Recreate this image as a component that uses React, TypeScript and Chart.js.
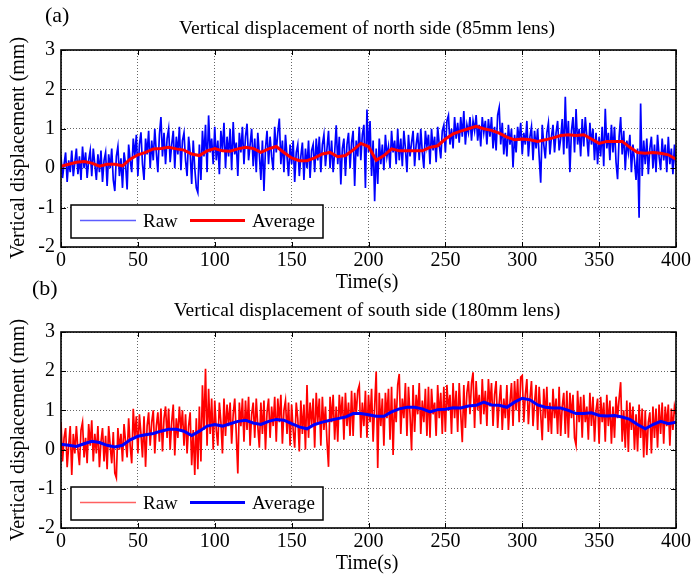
import React, { useEffect, useRef } from 'react';
import { Chart, registerables } from 'chart.js';
Chart.register(...registerables);

// ---------- data ----------
const RAW_STEP = 1; // seconds between raw samples
const AVG_STEP = 5; // seconds between average samples

const northRaw = [
  0.3, -0.25, 0.1, 0.4, -0.35, 0.2, -0.1, 0.45, -0.2, 0.15,
  0.5, -0.15, 0.3, -0.3, 0.55, 0.0, 0.4, -0.25, 0.2, 0.45,
  -0.2, 0.5, 0.1, -0.3, 0.35, -0.1, 0.45, -0.35, 0.2, 0.4,
  -0.45, 0.35, 0.0, 0.5, -0.3, -0.58, 0.3, 0.55, -0.2, 0.25,
  -0.5, 0.4, 0.1, -0.54, 0.6, 0.2, -0.1, 0.75, 0.3, 0.85,
  -0.2, 0.6, 0.91, 0.1, -0.3, 0.75, 0.35, 0.95, 0.0, 0.7,
  0.2, 1.0, 0.4, -0.1, 0.85, 1.3, 0.3, 0.9, 0.1, 0.75,
  1.0, 0.15, 0.6, 0.95, 0.0, 0.8, 0.35, 1.05, -0.05, 0.7,
  0.9, 0.2, -0.2, 0.8, 0.4, -0.4, 0.7, 0.0, -0.5, -0.62,
  0.6, -0.3, 0.95, 0.3, 1.1, -0.1, 1.34, 0.4, 0.75, 0.1,
  1.05, 0.2, 0.7, -0.15, 0.95, 0.45, 1.15, 0.0, 0.8, 0.3,
  1.0, -0.05, 1.17, 0.35, 0.65, -0.2, 0.9, 0.4, 1.05, 0.1,
  0.8, 1.13, 0.2, 0.6, 1.0, 0.05, 0.75, -0.1, 0.9, 0.35,
  -0.3, 0.7, -0.58, 0.5, 0.95, 0.1, 0.8, 0.3, -0.05, 1.05,
  0.4, 0.9, 1.26, 0.1, 0.7, -0.1, 0.85, 0.3, -0.2, 0.6,
  0.1, 0.7, -0.35, 0.4, 0.6, -0.2, 0.3, 0.65, -0.3, 0.5,
  0.0, 0.7, -0.25, 0.45, 0.6, -0.1, 0.75, 0.2, 0.8, -0.1,
  0.6, 0.85, 0.05, 0.5, 0.95, 0.0, 0.7, -0.1, 0.4, 1.09,
  0.1, 0.8, -0.41, 0.5, 0.75, -0.2, 0.6, 0.9, 0.0, 0.65,
  0.95, -0.45, 0.7, 0.3, 1.05, 0.2, 0.85, 1.1, -0.5, 1.49,
  0.4, 1.2, -0.2, 0.7, -0.84, 0.5, -0.4, 0.75, 0.1, 0.6,
  -0.05, 0.85, 0.3, 0.55, 0.0, 0.95, 0.4, 0.7, 0.1, 1.0,
  0.2, 0.75, 0.05, 0.95, 0.5, -0.1, 0.85, 0.3, 0.65, 0.95,
  0.05, 0.6, 0.9, 0.2, 1.0, 0.4, 0.0, 0.95, 0.55, 0.85,
  0.1, 1.0, 0.45, 0.8, 0.15, 1.05, 0.6, 0.25, 0.95, 1.1,
  0.4, 1.2, 1.34, 0.6, 1.0, 0.5, 1.3, 0.75, 1.15, 0.65,
  1.3, 0.8, 1.45, 0.6, 1.1, 0.9, 1.3, 0.7, 1.2, 0.95,
  1.35, 0.7, 1.1, 0.55, 1.3, 0.9, 1.2, 0.6, 1.25, 0.8,
  1.3, 0.5, 1.05, 0.45, 1.35, 1.54, 0.6, 1.15, 0.35, 0.9,
  0.3, 1.1, 0.6, 1.0, 0.02, 0.85, 0.4, 1.05, 0.7, 1.15,
  0.35, 0.9, 0.6, 1.2, 0.3, 0.8, 1.05, 0.2, 0.95, 0.5,
  1.0, 0.3, -0.37, 1.1, 0.6, 0.25, 0.9, 1.15, 0.35, 0.8,
  1.1, 0.4, 0.9, 1.2, 0.45, 0.75, 1.25, 0.35, 1.81, 0.5,
  1.2, -0.1, 0.95, 1.3, 0.4, 1.5, 0.6, 1.0, 0.3, 1.25,
  0.55, 1.3, 0.8, 0.3, 1.15, 0.6, 1.0, 0.2, 0.9, 0.1,
  0.8, 0.3, 1.05, 0.05, 1.51, 0.5, 0.9, 0.2, 1.1, 0.4,
  1.05, 0.15, -0.28, 0.8, 1.3, 0.35, 0.95, -0.05, 0.7, 0.4,
  0.85, -0.1, 0.6, 0.2, -0.3, 0.5, -1.26, 1.64, -0.2, 0.7,
  0.1, 0.75, -0.15, 0.5, 0.8, 0.0, 0.6, -0.1, 0.85, 0.3,
  -0.05, 0.75, 0.2, 0.6, -0.1, 0.8, 0.1, 0.5, -0.15, 0.6,
  0.0,
];

const northAvg = [
  0.05, 0.1, 0.15, 0.17, 0.13, 0.05, 0.1, 0.1, 0.06, 0.23,
  0.34, 0.4, 0.49, 0.5, 0.53, 0.49, 0.46, 0.36, 0.32, 0.44,
  0.5, 0.44, 0.43, 0.49, 0.53, 0.5, 0.4, 0.49, 0.55, 0.4,
  0.26, 0.19, 0.19, 0.26, 0.36, 0.4, 0.29, 0.32, 0.46, 0.63,
  0.55, 0.2, 0.32, 0.49, 0.44, 0.44, 0.44, 0.44, 0.53, 0.57,
  0.74, 0.87, 0.94, 1.0, 1.06, 1.0, 0.96, 0.89, 0.79, 0.72,
  0.74, 0.72, 0.68, 0.72, 0.77, 0.83, 0.85, 0.83, 0.85, 0.74,
  0.63, 0.68, 0.68, 0.68, 0.53, 0.4, 0.38, 0.4, 0.38, 0.34,
  0.23,
];

const southRaw = [
  0.7, -0.3, 0.3, 0.55, -0.45, 0.1, 0.6, -0.65, 0.4, -0.1,
  0.6, 0.0, -0.4, 0.5, 0.7, -0.2, 0.3, -0.35, 0.65, 0.1,
  0.75, -0.3, 0.4, -0.1, 0.6, -0.45, 0.2, 0.55, -0.3, 0.35,
  -0.5, 0.6, 0.1, -0.35, 0.45, -0.6, -0.72, 0.55, 0.0, 0.4,
  -0.3, 0.65, 0.2, -0.2, 0.8, 0.1, -0.35, 1.04, 0.3, 0.85,
  -0.1, 0.9, 0.4, -0.2, 0.85, -0.44, 0.6, 0.95, 0.1, 0.7,
  1.0, -0.1, 0.6, 0.95, 0.2, 1.05, -0.05, 0.8, 1.1, 0.3,
  1.05, 0.0, 0.7, 1.15, -0.15, 0.8, 0.3, 1.1, 0.5, 1.0,
  0.1, 0.9, -0.1, 0.6, 0.95, -0.4, 0.5, -0.65, 0.8, -0.5,
  1.1, -0.3, 1.64, 0.5, 2.06, 0.1, 1.55, 0.4, 1.3, 0.0,
  1.25, 0.5, 0.1, 1.2, 0.7, -0.1, 1.3, 0.35, 1.15, 0.6,
  1.2, 0.15, 0.9, 1.3, 0.4, -0.61, 1.2, 0.6, 1.3, 0.2,
  1.25, 0.5, 1.35, 0.1, 0.9, 1.2, 0.3, 1.3, 0.6, 0.05,
  1.2, 0.4, 1.25, 0.0, 0.95, 1.3, 0.3, 1.1, 0.6, 1.35,
  0.2, 1.3, 0.7, 1.4, 0.15, 1.0, 1.25, 0.4, 1.2, 0.1,
  1.15, 0.5, 0.05, 1.2, 0.8, -0.05, 1.25, 0.4, 1.15, 0.0,
  1.65, 0.3, 1.2, 0.6, 1.3, 0.05, 1.45, 0.7, 1.3, 0.1,
  1.35, 0.5, 1.1, 0.2, -0.44, 1.35, 0.7, 1.4, 0.25, 1.1,
  0.2, 1.4, 0.8, 1.35, 0.25, 1.45, 0.6, 1.2, 0.35, 1.5,
  0.35, 1.45, 0.9, 1.5, 1.64, 0.3, 1.2, 0.6, 1.5, 0.3,
  1.4, 0.7, 1.55, 0.2, 1.1, 1.99, -0.47, 1.45, 0.6, 1.3,
  0.1, 1.45, 0.8, 1.55, 0.25, 1.6, -0.14, 1.3, 0.7, 1.65,
  1.93, 0.4, 1.3, 0.8, 1.7, 0.35, 1.6, 0.9, -0.02, 1.65,
  0.45, 1.4, 0.9, 1.7, 0.4, 1.25, 0.7, 1.55, 0.35, 1.6,
  0.3, 1.55, 0.9, 1.2, 0.35, 1.65, 0.8, 1.45, 0.4, 1.6,
  0.45, 1.65, 1.0, 1.4, 0.4, 1.7, 0.8, 1.5, 0.45, 1.7,
  0.9, 0.19, 1.65, 0.55, 1.45, 1.75, 0.9, 1.7, 1.97, 0.55,
  1.75, 1.0, 1.4, 0.65, 1.8, 0.9, 1.5, 0.6, 1.8, 1.1,
  1.7, 0.6, 1.4, 1.75, 0.55, 1.2, 1.65, 0.5, 1.3, 0.8,
  1.65, 0.5, 1.2, 1.7, 0.6, 1.75, 1.0, 1.8, 0.7, 1.85,
  1.89, 0.7, 1.4, 1.8, 0.65, 1.3, 1.75, 0.6, 1.2, 1.65,
  0.5, 1.6, 0.9, 0.24, 1.55, 0.8, 1.6, 0.45, 1.2, 0.4,
  1.55, 0.8, 1.3, 0.4, 1.6, 0.35, 1.1, 1.45, 0.4, 1.5,
  0.3, 1.45, 0.8, 1.4, 0.3, 0.11, 1.5, 0.7, 1.35, 0.3,
  1.4, 0.7, 1.1, 0.25, 1.45, 0.6, 1.35, 0.2, 1.0, 1.3,
  0.15, 1.35, 0.7, 1.2, 0.2, 1.4, 0.6, 1.25, 0.15, 1.1,
  0.3, 1.35, 0.8, 1.3, 1.72, 0.2, 1.0, 0.05, 1.25, -0.06,
  1.2, 0.5, 1.1, 0.0, 0.9, -0.05, 1.15, 0.3, 1.05, -0.2,
  1.0, -0.14, 0.7, 0.95, -0.1, 1.1, 0.3, 1.05, 0.05, 1.15,
  0.4, 1.2, 0.15, 1.1, 0.6, 1.15, 0.1, 1.05, 0.5, 1.1,
  0.9,
];

const southAvg = [
  0.14, 0.11, 0.08, 0.15, 0.21, 0.18, 0.11, 0.07, 0.11, 0.25,
  0.34, 0.38, 0.41, 0.47, 0.52, 0.52, 0.47, 0.36, 0.47, 0.6,
  0.64, 0.6, 0.66, 0.72, 0.75, 0.68, 0.64, 0.72, 0.77, 0.75,
  0.66, 0.58, 0.53, 0.64, 0.7, 0.75, 0.79, 0.83, 0.92, 0.92,
  0.89, 0.85, 0.85, 0.96, 1.04, 1.08, 1.08, 1.04, 0.96, 1.02,
  1.03, 1.07, 1.06, 1.11, 1.13, 1.21, 1.14, 1.13, 1.08, 1.21,
  1.31, 1.27, 1.14, 1.08, 1.06, 1.06, 1.0, 0.92, 0.92, 0.94,
  0.87, 0.86, 0.87, 0.83, 0.77, 0.64, 0.53, 0.64, 0.72, 0.66,
  0.7,
];

const xMin = 0, xMax = 400, xStep = 50;
const yMin = -2, yMax = 3, yStep = 1;
const legendLabels = ['Raw', 'Average'];

const SERIF = '"Liberation Serif", "Times New Roman", serif';

type PanelCfg = {
  letter: string;
  title: string;
  letterPos: [number, number];
  titlePos: [number, number];
  xTitlePos: [number, number];
  yTitlePos: [number, number];
  rawColor: string;
  rawLegendColor: string;
  avgColor: string;
};

function makeDecor(cfg: PanelCfg) {
  return {
    id: 'decor',
    afterDraw(chart: any) {
      const ctx: CanvasRenderingContext2D = chart.ctx;
      const { left, top, right, bottom } = chart.chartArea;
      const xs = chart.scales.x;
      const ys = chart.scales.y;
      ctx.save();
      // ticks inside
      ctx.strokeStyle = '#000';
      ctx.lineWidth = 1;
      ctx.beginPath();
      for (let v = xMin; v <= xMax; v += xStep) {
        const px = Math.round(xs.getPixelForValue(v)) + 0.5;
        ctx.moveTo(px, top); ctx.lineTo(px, top + 5);
        ctx.moveTo(px, bottom); ctx.lineTo(px, bottom - 5);
      }
      for (let v = yMin; v <= yMax; v += yStep) {
        const py = Math.round(ys.getPixelForValue(v)) + 0.5;
        ctx.moveTo(left, py); ctx.lineTo(left + 5, py);
        ctx.moveTo(right, py); ctx.lineTo(right - 5, py);
      }
      ctx.stroke();
      // box
      ctx.lineWidth = 1.6;
      ctx.strokeRect(left, top, right - left, bottom - top);

      // tick labels
      ctx.fillStyle = '#000';
      ctx.font = `20px ${SERIF}`;
      ctx.textAlign = 'center';
      ctx.textBaseline = 'alphabetic';
      for (let v = xMin; v <= xMax; v += xStep) {
        ctx.fillText(String(v), xs.getPixelForValue(v), bottom + 18.5);
      }
      ctx.textAlign = 'right';
      ctx.textBaseline = 'middle';
      for (let v = yMin; v <= yMax; v += yStep) {
        ctx.fillText(String(v), left - 6, ys.getPixelForValue(v));
      }

      // legend
      const lx = left + 10, ly = top + 155, lw = 252, lh = 33;
      ctx.fillStyle = '#fff';
      ctx.fillRect(lx, ly, lw, lh);
      ctx.lineWidth = 1.5;
      ctx.strokeStyle = '#000';
      ctx.strokeRect(lx, ly, lw, lh);
      ctx.lineWidth = 1.5;
      ctx.strokeStyle = cfg.rawLegendColor;
      ctx.beginPath(); ctx.moveTo(lx + 9, ly + 15.5); ctx.lineTo(lx + 65, ly + 15.5); ctx.stroke();
      ctx.lineWidth = 3;
      ctx.strokeStyle = cfg.avgColor;
      ctx.beginPath(); ctx.moveTo(lx + 119, ly + 15.5); ctx.lineTo(lx + 174, ly + 15.5); ctx.stroke();
      ctx.fillStyle = '#000';
      ctx.font = `19px ${SERIF}`;
      ctx.textAlign = 'left';
      ctx.textBaseline = 'alphabetic';
      ctx.fillText(legendLabels[0], lx + 72, ly + 22);
      ctx.fillText(legendLabels[1], lx + 181, ly + 22);

      // texts
      ctx.font = `22px ${SERIF}`;
      ctx.fillText(cfg.letter, cfg.letterPos[0], cfg.letterPos[1]);
      ctx.font = `19.5px ${SERIF}`;
      ctx.textAlign = 'center';
      ctx.fillText(cfg.title, cfg.titlePos[0], cfg.titlePos[1]);
      ctx.font = `20px ${SERIF}`;
      ctx.fillText('Time(s)', cfg.xTitlePos[0], cfg.xTitlePos[1]);
      ctx.translate(cfg.yTitlePos[0], cfg.yTitlePos[1]);
      ctx.rotate(-Math.PI / 2);
      ctx.fillText('Vertical displacement (mm)', 0, 0);
      ctx.restore();
    },
  };
}

function Panel(props: {
  raw: number[]; avg: number[]; cfg: PanelCfg; top: number; height: number;
  padTop: number; padBottom: number;
}) {
  const ref = useRef<HTMLCanvasElement>(null);
  useEffect(() => {
    const { raw, avg, cfg } = props;
    const chart = new Chart(ref.current!, {
      type: 'line',
      data: {
        datasets: [
          {
            label: legendLabels[1],
            data: avg.map((v, i) => ({ x: i * AVG_STEP, y: v })),
            borderColor: cfg.avgColor,
            borderWidth: 3,
            pointRadius: 0,
            tension: 0,
            order: 0,
          },
          {
            label: legendLabels[0],
            data: raw.map((v, i) => ({ x: i * RAW_STEP, y: v })),
            borderColor: cfg.rawColor,
            borderWidth: 1.7,
            pointRadius: 0,
            tension: 0,
            order: 1,
          },
        ],
      },
      options: {
        responsive: false,
        animation: false,
        events: [],
        layout: { padding: { left: 61, right: 15, top: props.padTop, bottom: props.padBottom } },
        plugins: { legend: { display: false }, tooltip: { enabled: false }, title: { display: false } },
        scales: {
          x: {
            type: 'linear',
            min: xMin, max: xMax,
            afterFit: (s: any) => { s.height = 0; },
            ticks: { stepSize: xStep, autoSkip: false, maxRotation: 0, display: false },
            grid: { color: '#666', lineWidth: 1, drawTicks: false },
            border: { display: false, dash: [1, 2] },
          },
          y: {
            type: 'linear',
            min: yMin, max: yMax,
            afterFit: (s: any) => { s.width = 0; },
            ticks: { stepSize: yStep, autoSkip: false, display: false },
            grid: { color: '#666', lineWidth: 1, drawTicks: false },
            border: { display: false, dash: [1, 2] },
          },
        },
      },
      plugins: [makeDecor(cfg)],
    } as any);
    return () => chart.destroy();
  }, []);
  return (
    <canvas
      ref={ref}
      width={691}
      height={props.height}
      style={{ position: 'absolute', left: 0, top: props.top, width: 691, height: props.height }}
    />
  );
}

const northCfg: PanelCfg = {
  letter: '(a)',
  title: 'Vertical displacement of north side (85mm lens)',
  letterPos: [45, 22],
  titlePos: [367, 34],
  xTitlePos: [367, 288],
  yTitlePos: [24, 148],
  rawColor: '#0000ff',
  rawLegendColor: '#5c5cff',
  avgColor: '#ff0000',
};

const southCfg: PanelCfg = {
  letter: '(b)',
  title: 'Vertical displacement of south side (180mm lens)',
  letterPos: [32, 25],
  titlePos: [367, 46],
  xTitlePos: [367, 299],
  yTitlePos: [24, 160],
  rawColor: '#ff0000',
  rawLegendColor: '#ff6060',
  avgColor: '#0000ff',
};

export default function App() {
  return (
    <div style={{ position: 'fixed', left: 0, top: 0, width: 691, height: 578, background: '#fff' }}>
      <Panel raw={northRaw} avg={northAvg} cfg={northCfg} top={0} height={300} padTop={50} padBottom={53} />
      <Panel raw={southRaw} avg={southAvg} cfg={southCfg} top={270} height={308} padTop={62} padBottom={50} />
    </div>
  );
}
